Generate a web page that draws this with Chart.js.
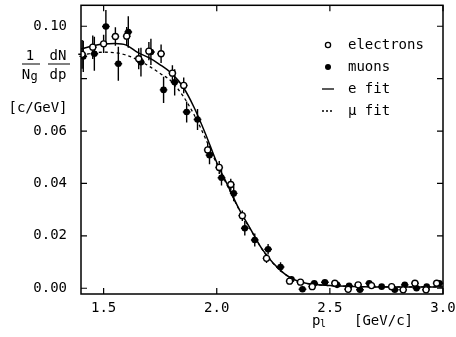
<!DOCTYPE html>
<html>
<head>
<meta charset="utf-8">
<script src="https://cdn.jsdelivr.net/npm/chart.js@4/dist/chart.umd.min.js"></script>
<style>
  html, body { margin: 0; padding: 0; background: #fff; }
  #wrap { width: 456px; height: 337px; }
</style>
</head>
<body>
<div id="wrap"><canvas id="grafico" width="456" height="337"></canvas></div>
<script>
// datos
var elecX = [1.405, 1.452, 1.500, 1.552, 1.602, 1.655, 1.700, 1.754, 1.804, 1.854, 1.960, 2.011, 2.062, 2.113, 2.220, 2.322, 2.370, 2.422, 2.522, 2.581, 2.625, 2.684, 2.773, 2.824, 2.876, 2.925, 2.972];
var elecY = [0.0893, 0.0920, 0.0933, 0.0961, 0.0962, 0.0876, 0.0905, 0.0895, 0.0821, 0.0774, 0.0528, 0.0461, 0.0396, 0.0277, 0.0114, 0.0027, 0.0023, 0.0006, 0.0019, -0.0004, 0.0013, 0.0010, 0.0006, -0.0006, 0.0019, -0.0006, 0.0019];
var elecErr = [0.0055, 0.0045, 0.0035, 0.0035, 0.0035, 0.0040, 0.0035, 0.0035, 0.0030, 0.0030, 0.0025, 0.0025, 0.0022, 0.0020, 0.0018, 0.0012, 0.0010, 0.0008, 0.0008, 0.0008, 0.0008, 0.0008, 0.0008, 0.0008, 0.0008, 0.0008, 0.0008];

var muonX = [1.410, 1.459, 1.510, 1.565, 1.609, 1.665, 1.709, 1.765, 1.814, 1.867, 1.915, 1.968, 2.021, 2.075, 2.124, 2.168, 2.227, 2.282, 2.330, 2.379, 2.431, 2.478, 2.532, 2.585, 2.633, 2.674, 2.729, 2.787, 2.831, 2.883, 2.928, 2.984];
var muonY = [0.0885, 0.0895, 0.0999, 0.0857, 0.0978, 0.0863, 0.0902, 0.0757, 0.0786, 0.0673, 0.0644, 0.0508, 0.0422, 0.0362, 0.0229, 0.0184, 0.0149, 0.0081, 0.0034, -0.0004, 0.0019, 0.0023, 0.0013, 0.0009, -0.0006, 0.0019, 0.0006, -0.0006, 0.0013, 0.0000, 0.0006, 0.0019];
var muonErr = [0.0060, 0.0065, 0.0063, 0.0065, 0.0060, 0.0055, 0.0050, 0.0050, 0.0050, 0.0040, 0.0040, 0.0035, 0.0030, 0.0030, 0.0028, 0.0025, 0.0020, 0.0018, 0.0012, 0.0010, 0.0008, 0.0008, 0.0008, 0.0008, 0.0008, 0.0008, 0.0008, 0.0008, 0.0008, 0.0008, 0.0008, 0.0008];

var fitX = [1.40, 1.45, 1.50, 1.55, 1.60, 1.65, 1.70, 1.75, 1.80, 1.85, 1.90, 1.95, 2.00, 2.05, 2.10, 2.15, 2.20, 2.25, 2.30, 2.35, 2.40, 2.50, 2.60, 2.80, 3.00];
var eFitY = [0.0913, 0.0925, 0.0932, 0.0934, 0.0928, 0.0900, 0.0880, 0.0853, 0.0820, 0.0770, 0.0690, 0.0590, 0.0480, 0.0390, 0.0300, 0.0225, 0.0150, 0.0095, 0.0055, 0.0030, 0.0018, 0.0010, 0.0007, 0.0005, 0.0005];
var muFitY = [0.0889, 0.0897, 0.0901, 0.0899, 0.0890, 0.0872, 0.0848, 0.0820, 0.0789, 0.0735, 0.0662, 0.0572, 0.0474, 0.0386, 0.0298, 0.0223, 0.0149, 0.0094, 0.0054, 0.0030, 0.0018, 0.0010, 0.0007, 0.0005, 0.0005];

var xTicks = [1.5, 2.0, 2.5, 3.0];
var yTicks = [0.00, 0.02, 0.04, 0.06, 0.08, 0.10];
var yTickLabels = ["0.00", "0.02", "0.04", "0.06", "", "0.10"];

var fuente = "'DejaVu Sans Mono', monospace";

function puntos(xs, ys) {
    return xs.map(function (x, i) { return { x: x, y: ys[i] }; });
}

// barras de error, marco, marcas y textos
var extras = {
    id: "extras",
    beforeDatasetsDraw: function (chart) {
        var ctx = chart.ctx, sx = chart.scales.x, sy = chart.scales.y;
        ctx.save();
        ctx.strokeStyle = "#000";
        ctx.lineWidth = 1.4;
        [[elecX, elecY, elecErr], [muonX, muonY, muonErr]].forEach(function (s) {
            s[0].forEach(function (x, i) {
                var px = sx.getPixelForValue(x), py = sy.getPixelForValue(s[1][i]);
                var y1 = sy.getPixelForValue(s[1][i] + s[2][i]);
                var y2 = sy.getPixelForValue(s[1][i] - s[2][i]);
                var x1 = sx.getPixelForValue(x - 0.017), x2 = sx.getPixelForValue(x + 0.017);
                ctx.beginPath();
                ctx.moveTo(px, y1); ctx.lineTo(px, y2);
                ctx.moveTo(x1, py); ctx.lineTo(x2, py);
                ctx.stroke();
            });
        });
        ctx.restore();
    },
    afterDraw: function (chart) {
        var ctx = chart.ctx, a = chart.chartArea, sx = chart.scales.x, sy = chart.scales.y;
        ctx.save();
        ctx.strokeStyle = "#000";
        ctx.lineWidth = 1.5;
        ctx.strokeRect(a.left, a.top, a.right - a.left, a.bottom - a.top);
        ctx.lineWidth = 1.2;
        ctx.beginPath();
        yTicks.forEach(function (v) {
            var py = sy.getPixelForValue(v);
            ctx.moveTo(a.left, py); ctx.lineTo(a.left + 6, py);
            ctx.moveTo(a.right, py); ctx.lineTo(a.right - 6, py);
        });
        xTicks.forEach(function (v) {
            var px = sx.getPixelForValue(v);
            ctx.moveTo(px, a.bottom); ctx.lineTo(px, a.bottom - 6);
            ctx.moveTo(px, a.top); ctx.lineTo(px, a.top + 6);
        });
        ctx.stroke();

        // titulo eje y
        ctx.fillStyle = "#000";
        ctx.textAlign = "center";
        ctx.textBaseline = "middle";
        ctx.font = "14px " + fuente;
        ctx.fillText("1", 30, 56);
        ctx.fillText("N", 26, 75);
        ctx.font = "12px " + fuente;
        ctx.fillText("g", 34, 77);
        ctx.font = "14px " + fuente;
        ctx.fillText("dN", 58, 56);
        ctx.fillText("dp", 58, 75);
        ctx.beginPath();
        ctx.moveTo(22, 64); ctx.lineTo(40, 64);
        ctx.moveTo(48, 64); ctx.lineTo(70, 64);
        ctx.stroke();
        ctx.fillText("[c/GeV]", 38, 108);

        // titulo eje x
        ctx.textAlign = "left";
        ctx.fillText("p", 312, 321);
        ctx.font = "10px " + fuente;
        ctx.fillText("l", 320, 324);
        ctx.font = "14px " + fuente;
        ctx.fillText("[GeV/c]", 354, 321);

        // leyenda
        var ly = [45, 67, 89, 111];
        var textos = ["electrons", "muons", "e fit", "\u03bc fit"];
        textos.forEach(function (t, i) { ctx.fillText(t, 348, ly[i]); });
        ctx.lineWidth = 1.3;
        ctx.beginPath();
        ctx.arc(328, ly[0], 2.6, 0, Math.PI * 2);
        ctx.stroke();
        ctx.beginPath();
        ctx.arc(328, ly[1], 3, 0, Math.PI * 2);
        ctx.fill();
        ctx.beginPath();
        ctx.moveTo(322, ly[2]); ctx.lineTo(334, ly[2]);
        ctx.stroke();
        ctx.setLineDash([2, 2]);
        ctx.beginPath();
        ctx.moveTo(322, ly[3]); ctx.lineTo(334, ly[3]);
        ctx.stroke();
        ctx.restore();
    }
};

function cargaGrafico() {
    var config = {
        type: "scatter",
        data: {
            datasets: [{
                label: "electrons",
                data: puntos(elecX, elecY),
                pointStyle: "circle",
                pointRadius: 3,
                pointBorderWidth: 1.3,
                backgroundColor: "#fff",
                borderColor: "#000",
                order: 0
            }, {
                label: "muons",
                data: puntos(muonX, muonY),
                pointStyle: "circle",
                pointRadius: 3.3,
                pointBorderWidth: 0,
                backgroundColor: "#000",
                borderColor: "#000",
                order: 0
            }, {
                type: "line",
                label: "e fit",
                data: puntos(fitX, eFitY),
                borderColor: "#000",
                borderWidth: 1.5,
                pointRadius: 0,
                cubicInterpolationMode: "monotone",
                fill: false,
                order: 1
            }, {
                type: "line",
                label: "\u03bc fit",
                data: puntos(fitX, muFitY),
                borderColor: "#000",
                borderWidth: 1.3,
                borderDash: [3, 3],
                pointRadius: 0,
                cubicInterpolationMode: "monotone",
                fill: false,
                order: 1
            }]
        },
        options: {
            responsive: false,
            animation: false,
            layout: { padding: { top: 5, right: 13, left: 0, bottom: 0 } },
            plugins: {
                legend: { display: false },
                tooltip: { enabled: false }
            },
            scales: {
                x: {
                    type: "linear",
                    min: 1.4,
                    max: 3.0,
                    afterBuildTicks: function (s) { s.ticks = xTicks.map(function (v) { return { value: v }; }); },
                    afterFit: function (s) { s.height = 43; s.paddingLeft = 0; s.paddingRight = 0; },
                    grid: { display: false, drawTicks: false },
                    border: { display: false },
                    ticks: {
                        color: "#000",
                        padding: 6,
                        maxRotation: 0,
                        font: { family: fuente, size: 14 },
                        callback: function (v) { return v.toFixed(1); }
                    }
                },
                y: {
                    type: "linear",
                    min: -0.0022,
                    max: 0.108,
                    afterBuildTicks: function (s) { s.ticks = yTicks.map(function (v) { return { value: v }; }); },
                    afterFit: function (s) { s.width = 81; s.paddingTop = 0; s.paddingBottom = 0; },
                    grid: { display: false, drawTicks: false },
                    border: { display: false },
                    ticks: {
                        color: "#000",
                        padding: 14,
                        font: { family: fuente, size: 14 },
                        callback: function (v, i) { return yTickLabels[i]; }
                    }
                }
            }
        },
        plugins: [extras]
    };
    new Chart(document.getElementById("grafico").getContext("2d"), config);
}

cargaGrafico();
</script>
</body>
</html>
